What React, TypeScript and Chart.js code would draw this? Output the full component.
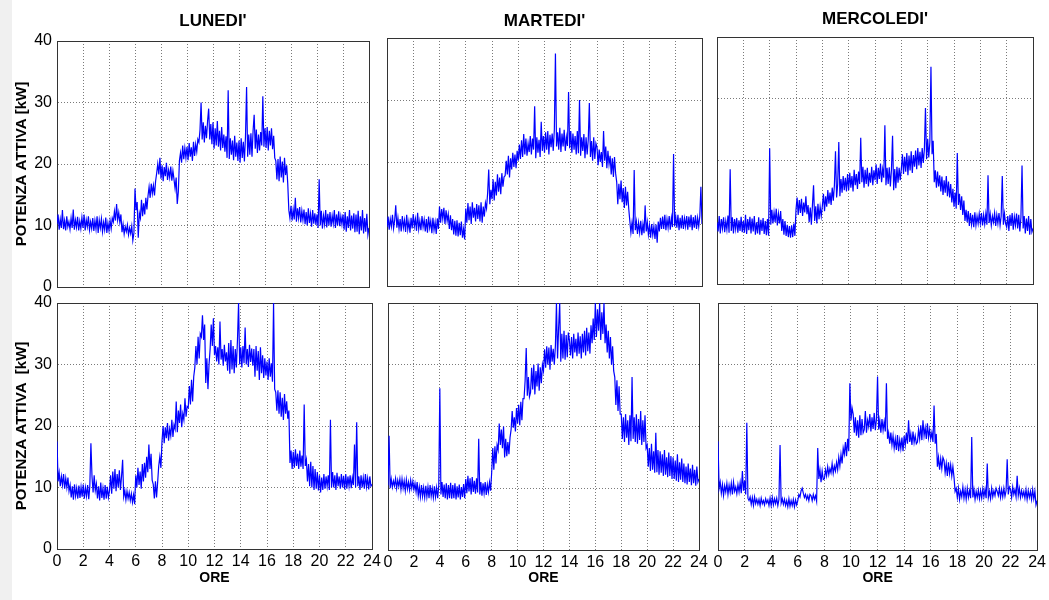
import React, { useEffect, useRef } from "react";
import { Chart, registerables } from "chart.js";

Chart.register(...registerables);

// Sample times in hours (one reading every 5 minutes, 0..24 h)
const SAMPLE_TIMES: number[] = Array.from({ length: 289 }, (_, i) => i / 12);
const X_TICKS = [0, 2, 4, 6, 8, 10, 12, 14, 16, 18, 20, 22, 24];
const Y_TICKS = [0, 10, 20, 30, 40];
const DAY_TITLES = ["LUNEDI'", "MARTEDI'", "MERCOLEDI'"];
const Y_TITLE_TOP = "POTENZA ATTIVA [kW]";
const Y_TITLE_BOTTOM = "POTENZA ATTIVA  [kW]";
const X_TITLE = "ORE";

// Active power [kW], top row (one row per hour)
const LUNEDI_A = [
  10.2, 11.8, 9.3, 11.0, 9.6, 12.5, 9.4, 10.8, 9.2, 11.5, 9.8, 10.6,
  9.4, 11.2, 9.6, 12.6, 9.3, 10.9, 9.7, 11.4, 9.2, 10.7, 9.5, 11.3,
  9.6, 11.8, 9.2, 10.9, 9.8, 11.5, 9.3, 10.6, 9.5, 11.2, 9.1, 10.8,
  9.4, 11.5, 8.8, 10.9, 9.6, 11.1, 9.0, 10.5, 9.3, 11.3, 8.8, 10.4,
  9.2, 10.8, 9.5, 11.2, 10.6, 12.3, 10.8, 13.5, 10.9, 12.1, 10.5, 11.8,
  8.9, 10.2, 8.6, 9.8, 9.0, 10.1, 8.5, 9.6, 8.7, 9.9, 7.6, 8.8,
  16.0, 12.5, 13.8, 8.0, 12.0, 11.2, 14.2, 11.5, 13.6, 11.8, 14.5, 12.6,
  14.8, 16.3, 14.5, 16.8, 15.2, 16.5, 14.9, 17.2, 18.5, 20.0, 18.3, 21.0,
  17.6, 19.8, 17.2, 19.5, 18.0, 20.2, 17.4, 19.0, 17.8, 19.6, 17.3, 18.9,
  17.5, 16.0, 17.8, 13.5, 15.5, 20.5, 21.8, 20.2, 23.0, 20.8, 22.6, 21.0,
  22.8, 20.6, 23.4, 21.2, 22.7, 20.5, 23.6, 21.3, 23.2, 22.0, 24.0, 23.5,
  25.5, 30.0, 24.0, 26.8, 23.5, 26.2, 24.2, 27.0, 29.0, 24.0, 26.5, 23.2,
  26.8, 22.5, 25.8, 23.0, 27.0, 22.8, 25.4, 22.2, 26.0, 22.6, 24.8, 22.0,
  24.5, 21.0, 32.0, 20.8, 24.2, 21.5, 23.8, 20.6, 24.6, 21.2, 23.5, 20.5,
  23.8, 20.2, 24.2, 21.0, 23.6, 20.4, 24.5, 32.5, 21.2, 24.8, 21.5, 25.0,
  21.2, 25.4, 28.0, 22.5, 25.6, 21.8, 24.8, 22.2, 25.2, 23.0, 31.0, 22.8,
  25.8, 22.6, 26.0, 22.2, 25.4, 23.0, 25.8, 22.4, 24.6, 21.0, 20.5, 17.5,
  20.8, 17.2, 21.2, 17.8, 20.4, 17.0, 21.0, 18.2, 19.8, 16.8, 12.5, 11.2,
  13.2, 10.8, 12.6, 11.0, 14.5, 10.6, 12.8, 11.2, 13.0, 10.5, 12.4, 10.9,
  12.6, 10.2, 12.2, 10.0, 12.8, 10.4, 11.9, 9.8, 12.5, 10.3, 12.0, 10.1,
  11.8, 9.6, 17.5, 10.0, 12.4, 9.5, 11.6, 10.2, 12.5, 9.7, 11.9, 10.0,
  12.2, 9.8, 11.6, 10.3, 12.5, 9.6, 11.8, 10.0, 12.3, 9.9, 11.5, 10.2,
  11.8, 9.3, 12.2, 9.0, 11.5, 9.6, 12.5, 9.2, 11.6, 9.5, 12.0, 8.9,
  11.8, 9.0, 12.4, 8.6, 11.5, 9.2, 12.5, 8.7, 11.2, 9.0, 11.9, 8.5,
  9.6,
];

const MARTEDI_A = [
  9.5, 11.2, 9.1, 10.8, 9.6, 11.5, 9.3, 10.6, 13.0, 9.4, 11.0, 9.2,
  10.8, 8.8, 11.3, 9.4, 10.6, 8.7, 11.5, 9.1, 10.4, 8.6, 11.0, 9.3,
  11.6, 9.6, 10.8, 8.9, 11.8, 9.2, 10.5, 9.0, 11.3, 9.5, 10.7, 8.8,
  10.8, 8.6, 11.2, 9.4, 10.5, 8.5, 11.0, 9.0, 10.3, 8.4, 10.9, 9.2,
  12.8, 10.2, 12.4, 10.8, 12.6, 10.0, 12.2, 10.5, 11.6, 9.2, 11.4, 9.0,
  10.8, 8.3, 10.5, 8.1, 10.6, 8.0, 10.2, 8.2, 10.4, 7.8, 9.2, 7.5,
  12.5, 10.2, 13.4, 10.6, 12.8, 10.0, 13.5, 11.0, 12.6, 10.4, 13.2, 10.8,
  13.0, 10.4, 13.5, 10.2, 12.8, 11.2, 13.4, 12.5, 15.0, 18.8, 13.2, 15.5,
  14.0, 17.2, 13.8, 16.8, 14.6, 18.0, 15.2, 17.5, 14.8, 18.2, 16.0, 17.6,
  17.8, 20.2, 18.0, 21.0, 17.5, 20.6, 18.8, 21.5, 19.2, 21.2, 19.0, 21.8,
  20.2, 22.8, 20.5, 23.5, 20.8, 24.5, 21.2, 23.8, 21.0, 23.0, 21.6, 24.2,
  21.2, 23.8, 22.0, 29.0, 20.6, 24.0, 21.5, 23.6, 20.8, 26.5, 21.8, 24.2,
  21.5, 24.8, 22.0, 25.0, 21.2, 24.4, 22.4, 24.6, 21.8, 25.2, 37.5, 22.5,
  24.8, 22.0, 25.5, 21.6, 24.6, 22.5, 25.2, 21.8, 24.0, 22.6, 31.3, 22.2,
  25.0, 21.5, 24.6, 22.0, 24.2, 21.2, 25.0, 21.4, 30.0, 21.0, 24.0, 21.8,
  24.5, 20.6, 24.0, 21.2, 23.6, 29.5, 20.8, 23.4, 20.2, 24.0, 20.5, 23.0,
  22.4, 19.5, 22.0, 20.0, 21.6, 19.2, 25.0, 20.2, 22.5, 19.0, 21.8, 19.6,
  21.0, 18.0, 20.6, 17.6, 20.8, 18.2, 16.8, 13.2, 16.5, 14.0, 17.0, 13.5,
  15.8, 12.6, 16.0, 13.0, 15.2, 12.5, 10.5, 8.6, 10.2, 8.4, 18.7, 9.0,
  10.4, 8.4, 10.2, 8.6, 10.5, 8.2, 10.0, 8.5, 13.0, 8.8, 10.3, 8.3,
  9.8, 7.8, 10.0, 8.2, 9.6, 7.6, 9.9, 7.0, 10.4, 8.8, 11.0, 9.2,
  11.2, 9.2, 11.5, 9.0, 10.8, 9.4, 11.3, 9.1, 11.0, 9.5, 21.3, 9.6,
  11.2, 9.4, 11.5, 9.0, 11.0, 9.3, 11.4, 9.2, 10.9, 9.6, 11.3, 9.1,
  11.2, 9.5, 11.5, 9.0, 11.1, 9.4, 11.4, 9.2, 11.0, 9.6, 11.3, 16.0,
  10.0,
];

const MERCOLEDI_A = [
  10.0, 8.5, 11.0, 8.2, 10.5, 9.0, 10.8, 8.4, 10.2, 8.8, 11.1, 8.3,
  18.6, 8.6, 10.8, 8.2, 10.5, 8.9, 10.7, 8.3, 10.3, 8.6, 10.9, 8.4,
  10.2, 8.3, 11.2, 8.1, 10.5, 8.7, 10.9, 8.2, 10.6, 8.5, 11.0, 8.0,
  10.0, 8.2, 10.8, 8.0, 10.4, 8.6, 10.7, 8.1, 10.2, 7.9, 10.5, 7.8,
  22.0, 9.6, 12.0, 9.8, 11.6, 10.0, 12.2, 9.5, 11.4, 9.8, 11.8, 8.6,
  10.5, 8.0, 10.2, 7.8, 9.6, 7.6, 9.4, 7.5, 9.5, 7.6, 9.8, 7.8,
  12.0, 14.0, 11.2, 13.6, 11.5, 13.8, 11.0, 13.2, 11.6, 14.2, 11.3, 12.8,
  10.0, 12.4, 9.6, 12.8, 16.0, 10.2, 12.6, 9.8, 13.0, 10.5, 12.5, 11.0,
  12.6, 14.6, 11.8, 14.2, 12.5, 15.2, 13.0, 14.8, 12.8, 15.6, 13.5, 16.0,
  21.5, 14.0, 16.2, 23.0, 14.2, 17.0, 14.8, 17.5, 15.2, 17.2, 15.0, 17.8,
  15.2, 18.0, 15.6, 17.5, 15.0, 18.5, 16.0, 17.8, 15.4, 18.2, 16.2, 23.7,
  16.5, 19.0, 15.6, 18.5, 16.2, 18.8, 15.8, 18.0, 16.4, 19.0, 16.0, 18.4,
  16.8, 19.4, 16.2, 18.8, 17.0, 19.5, 16.5, 18.6, 17.2, 25.7, 16.0, 18.8,
  16.2, 18.9, 15.8, 18.5, 24.0, 15.2, 18.6, 15.5, 19.0, 16.4, 18.8, 16.8,
  18.6, 21.0, 17.8, 20.6, 18.2, 21.2, 17.6, 20.8, 18.4, 21.5, 18.0, 20.9,
  19.0, 21.6, 18.6, 22.0, 19.2, 21.4, 18.8, 22.0, 19.6, 21.8, 28.5, 20.2,
  23.5, 20.5, 23.0, 35.2, 21.0, 23.2, 16.5, 18.4, 15.6, 18.2, 15.8, 17.6,
  15.0, 17.4, 14.4, 16.8, 14.8, 17.5, 14.2, 16.6, 14.0, 16.2, 13.2, 15.4,
  12.5, 14.8, 12.2, 21.2, 12.8, 14.6, 12.0, 14.2, 11.2, 13.5, 10.2, 12.0,
  10.0, 11.8, 9.4, 11.5, 9.6, 11.2, 9.2, 11.6, 9.5, 11.0, 9.8, 11.4,
  9.8, 11.5, 9.5, 11.2, 9.7, 11.4, 9.6, 17.6, 9.9, 11.3, 9.5, 11.0,
  10.0, 11.5, 9.4, 11.2, 9.8, 11.5, 9.5, 11.0, 17.5, 9.6, 11.4, 9.8,
  9.2, 11.0, 8.6, 11.2, 9.4, 11.5, 8.8, 10.9, 9.5, 11.4, 9.0, 11.2,
  8.5, 10.8, 19.2, 9.0, 11.0, 8.2, 10.6, 8.6, 11.0, 8.0, 10.5, 8.4,
  9.0,
];

// Active power [kW], bottom row (one row per hour)
const LUNEDI_B = [
  17.5, 11.0, 12.4, 10.2, 11.8, 10.4, 12.2, 9.8, 11.5, 10.0, 11.6, 9.4,
  10.4, 8.4, 10.2, 8.0, 10.5, 8.6, 9.9, 8.2, 10.3, 8.3, 10.1, 8.5,
  10.5, 8.2, 10.0, 8.6, 10.4, 8.1, 10.2, 17.2, 11.8, 9.2, 12.0, 9.5,
  10.6, 8.2, 10.2, 7.9, 10.8, 8.3, 9.9, 8.0, 10.4, 8.2, 10.1, 8.4,
  9.5, 12.0, 9.0, 12.6, 9.8, 13.0, 9.4, 12.2, 10.0, 12.8, 9.6, 11.8,
  14.5, 8.5, 9.5, 8.0, 9.4, 8.2, 9.2, 7.9, 9.0, 7.6, 8.8, 7.3,
  12.0, 10.0, 13.2, 10.4, 12.6, 9.8, 13.8, 11.0, 14.0, 11.6, 15.0, 12.5,
  17.0, 13.0, 15.5, 11.2, 10.5, 8.2, 11.0, 8.4, 10.8, 13.5, 15.0, 13.2,
  17.5, 20.0, 17.2, 19.8, 18.0, 20.5, 17.6, 19.5, 18.4, 21.0, 18.2, 20.2,
  19.5, 24.0, 19.0, 22.5, 20.5, 23.5, 19.8, 22.0, 21.0, 24.5, 21.5, 23.2,
  23.0, 26.5, 23.5, 27.5, 24.0, 28.0, 29.5, 33.0, 30.0, 34.5, 31.0, 35.0,
  34.5, 38.0, 34.0, 36.5, 27.0, 31.0, 26.0, 30.0, 32.5, 36.5, 33.0, 37.5,
  31.5, 33.0, 30.5, 32.8, 30.0, 37.0, 30.8, 32.5, 29.8, 33.2, 30.5, 32.0,
  29.0, 33.5, 28.5, 34.0, 29.2, 33.0, 28.6, 32.5, 29.5, 34.0, 40.0, 30.0,
  32.8, 29.5, 33.0, 30.2, 36.0, 30.0, 32.5, 29.6, 33.2, 30.4, 32.6, 29.8,
  32.5, 28.0, 33.0, 29.0, 32.2, 27.5, 32.8, 28.6, 31.5, 27.8, 31.0, 28.2,
  30.5, 27.5, 31.0, 28.0, 30.2, 27.2, 40.0, 26.0, 25.5, 22.5, 25.8, 22.0,
  25.5, 21.5, 24.6, 21.0, 25.2, 22.0, 24.0, 21.2, 22.5, 14.0, 16.0, 13.0,
  15.8, 13.2, 16.2, 13.5, 15.5, 13.0, 16.0, 13.4, 15.2, 13.0, 23.5, 13.5,
  14.5, 11.0, 13.8, 10.2, 14.2, 10.0, 13.5, 9.6, 13.0, 9.8, 12.5, 9.5,
  12.0, 9.2, 11.6, 9.6, 12.2, 9.8, 11.8, 10.2, 12.0, 9.6, 21.0, 10.0,
  12.5, 10.0, 12.0, 9.6, 12.4, 10.2, 11.8, 9.8, 12.2, 10.0, 11.9, 9.7,
  12.2, 9.8, 11.8, 10.2, 12.0, 9.9, 11.6, 10.4, 17.0, 10.0, 20.6, 10.2,
  11.8, 9.6, 12.0, 10.0, 11.6, 9.8, 12.2, 10.1, 11.5, 9.7, 11.8, 10.2,
  10.5,
];

const MARTEDI_B = [
  10.5, 18.5, 10.0, 11.5, 10.2, 11.2, 10.4, 11.6, 10.0, 11.3, 10.3, 11.5,
  9.8, 11.5, 10.0, 11.2, 9.6, 11.4, 9.9, 11.0, 9.7, 11.3, 10.0, 11.1,
  9.8, 10.8, 9.4, 11.0, 8.8, 10.2, 8.6, 10.5, 8.7, 10.1, 8.5, 10.4,
  8.6, 10.2, 8.4, 10.5, 8.7, 10.0, 8.5, 10.3, 8.6, 10.1, 8.4, 10.4,
  26.2, 9.0, 11.0, 8.6, 10.6, 8.4, 10.8, 8.2, 10.5, 8.4, 10.9, 8.3,
  10.5, 8.4, 10.8, 8.2, 10.3, 8.5, 10.6, 8.2, 10.2, 8.6, 10.7, 8.4,
  11.5, 9.2, 12.0, 9.5, 11.6, 9.0, 11.8, 9.4, 11.2, 9.1, 11.6, 9.3,
  18.0, 9.0, 11.0, 8.8, 10.8, 9.2, 11.0, 8.9, 10.6, 9.4, 11.0, 9.6,
  12.5, 16.5, 13.0, 16.8, 14.0, 17.0, 16.2, 20.5, 17.0, 19.5, 16.5, 20.0,
  15.0, 18.0, 15.2, 17.5, 15.5, 18.2, 19.5, 22.5, 19.8, 21.5, 19.2, 23.0,
  20.5, 23.5, 20.2, 24.0, 21.0, 24.5, 24.5, 27.5, 32.7, 25.0, 28.0, 24.8,
  25.5, 29.5, 26.0, 30.0, 25.2, 29.0, 26.5, 30.2, 25.8, 29.6, 27.0, 30.0,
  29.0, 32.5, 29.5, 33.0, 30.0, 32.8, 29.2, 33.2, 30.5, 32.6, 30.0, 33.0,
  40.0, 31.0, 36.0, 40.0, 30.5, 35.0, 31.0, 35.5, 30.8, 34.8, 31.2, 35.2,
  34.0, 31.5, 34.5, 31.0, 35.0, 32.0, 34.2, 31.4, 35.2, 31.8, 34.6, 31.0,
  35.0, 32.0, 35.5, 31.5, 36.0, 32.2, 35.2, 31.8, 36.4, 33.5, 37.5, 34.0,
  40.0, 34.5, 39.0, 35.5, 40.0, 34.0, 38.5, 35.0, 40.0, 33.5, 36.5, 32.0,
  35.5, 31.0, 34.5, 30.0, 33.0, 29.0, 28.0, 23.5, 27.5, 22.5, 26.5, 22.0,
  22.0, 18.0, 21.5, 17.5, 22.0, 18.2, 21.0, 17.0, 21.8, 17.6, 28.0, 18.0,
  21.5, 17.5, 22.0, 17.2, 21.2, 17.8, 22.5, 17.0, 21.0, 17.5, 21.8, 16.5,
  17.0, 13.5, 16.5, 12.8, 17.2, 13.0, 16.0, 12.5, 19.0, 12.6, 16.2, 12.2,
  16.0, 12.5, 15.5, 12.0, 16.2, 12.2, 15.0, 11.8, 15.8, 12.0, 15.2, 11.5,
  15.0, 11.5, 14.5, 11.2, 15.5, 11.0, 14.2, 11.4, 14.8, 11.0, 14.0, 10.8,
  13.5, 10.6, 14.0, 11.0, 13.2, 10.5, 13.8, 10.8, 13.0, 10.4, 13.5, 11.0,
  11.5,
];

const MERCOLEDI_B = [
  17.6, 10.0, 11.0, 9.2, 10.6, 8.8, 10.4, 9.4, 10.8, 9.0, 10.5, 9.3,
  10.8, 9.0, 11.0, 9.5, 10.2, 9.1, 10.6, 9.4, 10.9, 9.2, 12.8, 9.6,
  11.2, 9.0, 20.6, 8.4, 8.0, 8.6, 7.4, 8.5, 7.2, 8.6, 7.5, 8.2,
  7.4, 8.2, 7.2, 8.4, 7.5, 8.0, 7.3, 8.3, 7.6, 8.1, 7.2, 8.4,
  7.2, 8.5, 7.3, 8.3, 7.5, 8.4, 7.2, 8.2, 17.0, 7.6, 8.3, 7.4,
  8.2, 7.2, 8.0, 7.0, 8.3, 7.1, 8.0, 7.2, 8.2, 7.0, 8.1, 7.3,
  8.0, 9.0, 8.6, 9.6, 10.0, 9.2, 8.5, 9.0, 8.2, 8.8, 8.0, 9.0,
  8.8, 8.0, 9.0, 8.2, 8.8, 7.9, 16.5, 11.5, 13.0, 11.0, 12.8, 11.4,
  11.5, 13.0, 12.0, 13.5, 12.2, 13.2, 12.5, 14.0, 12.4, 13.6, 12.8, 14.2,
  13.0, 15.0, 13.6, 15.5, 14.0, 16.5, 15.5, 17.5, 15.2, 18.0, 16.0, 27.0,
  21.0, 23.0, 22.0, 19.0, 21.5, 18.5, 21.0, 18.2, 21.8, 18.6, 21.2, 19.0,
  19.5, 22.5, 19.0, 21.0, 20.0, 22.0, 19.2, 21.5, 19.6, 22.2, 19.4, 21.2,
  28.1, 19.5, 21.0, 19.0, 21.2, 19.4, 20.8, 19.2, 27.0, 18.0, 19.0, 17.2,
  19.0, 17.0, 18.5, 16.5, 18.0, 16.2, 18.6, 16.0, 17.8, 16.4, 18.2, 16.0,
  18.5, 17.0, 19.0, 17.2, 21.0, 17.5, 18.8, 17.0, 19.2, 17.4, 18.5, 17.2,
  17.5, 19.5, 18.0, 20.2, 17.8, 21.0, 18.5, 19.8, 18.0, 20.5, 18.2, 19.5,
  18.0, 19.0, 17.5, 23.4, 17.2, 18.8, 13.5, 15.0, 13.0, 14.8, 13.2, 15.0,
  14.5, 12.5, 14.0, 12.0, 14.2, 12.4, 13.8, 12.0, 13.5, 11.8, 9.5, 10.0,
  8.5, 10.0, 8.2, 9.5, 8.6, 10.2, 8.4, 9.8, 8.2, 10.0, 8.5, 9.6,
  8.4, 18.3, 8.5, 9.8, 8.2, 9.5, 8.5, 9.7, 8.3, 9.6, 8.4, 9.9,
  8.6, 9.8, 8.4, 14.0, 8.5, 9.5, 8.3, 10.0, 8.6, 9.6, 8.8, 10.0,
  9.5, 8.8, 10.0, 8.5, 9.8, 8.6, 10.0, 8.7, 9.6, 14.7, 9.0, 10.2,
  9.8, 8.5, 10.2, 9.0, 9.8, 8.6, 12.0, 8.8, 10.0, 8.5, 9.6, 8.7,
  9.5, 8.4, 9.8, 8.2, 9.6, 8.5, 9.5, 8.2, 9.8, 8.3, 9.5, 7.3,
  8.0,
];

const W = 1049;
const H = 600;
const FONT = "'Liberation Sans', Arial, Helvetica, sans-serif";
const LINE_COLOR = "#0000ff";
const GRID_COLOR = "#7a7a7a";
const FRAME_COLOR = "#333333";

type Panel = {
  key: string;
  values: number[];
  title?: string;
  titleY?: number;
  yTitle?: string;
  showY: boolean;
  showX: boolean;
  L: number; T: number; R: number; B: number;
};

const PANELS: Panel[] = [
  { key: "a1", values: LUNEDI_A, title: DAY_TITLES[0], titleY: 21, yTitle: Y_TITLE_TOP, showY: true, showX: false, L: 57, T: 41, R: 369, B: 287 },
  { key: "a2", values: MARTEDI_A, title: DAY_TITLES[1], titleY: 21, showY: false, showX: false, L: 387, T: 38, R: 702, B: 286 },
  { key: "a3", values: MERCOLEDI_A, title: DAY_TITLES[2], titleY: 19, showY: false, showX: false, L: 717, T: 37, R: 1033, B: 284 },
  { key: "b1", values: LUNEDI_B, yTitle: Y_TITLE_BOTTOM, showY: true, showX: true, L: 57, T: 303, R: 372, B: 549 },
  { key: "b2", values: MARTEDI_B, showY: false, showX: true, L: 388, T: 303, R: 699, B: 550 },
  { key: "b3", values: MERCOLEDI_B, showY: false, showX: true, L: 718, T: 303, R: 1038, B: 550 },
];

function PanelChart({ p }: { p: Panel }) {
  const ref = useRef<HTMLCanvasElement | null>(null);
  useEffect(() => {
    if (!ref.current) return;
    const yW = p.showY ? 50 : 1;
    const xH = p.showX ? 42 : 1;
    const titleSize = 17;
    const titleLH = titleSize * 1.2;
    const padTop = p.title ? (p.titleY as number) - titleLH / 2 : p.T;
    const titleBottomPad = p.title ? p.T - padTop - titleLH : 0;
    const points = p.values.map((v, i) => ({ x: SAMPLE_TIMES[i], y: v }));
    const chart = new Chart(ref.current, {
      type: "line",
      data: {
        datasets: [
          {
            data: points,
            borderColor: LINE_COLOR,
            borderWidth: 1.2,
            pointRadius: 0,
            tension: 0,
            fill: false,
          },
        ],
      },
      options: {
        responsive: false,
        animation: false,
        events: [],
        layout: {
          padding: {
            left: p.L - yW,
            right: W - p.R,
            top: padTop,
            bottom: H - p.B - xH,
          },
        },
        plugins: {
          legend: { display: false },
          tooltip: { enabled: false },
          title: {
            display: !!p.title,
            text: p.title || "",
            fullSize: false,
            color: "#000",
            font: { family: FONT, size: titleSize, weight: "bold", lineHeight: 1.2 },
            padding: { top: 0, bottom: titleBottomPad },
          },
        },
        scales: {
          x: {
            type: "linear",
            position: "bottom",
            min: 0,
            max: 24,
            afterBuildTicks: (s: any) => { s.ticks = X_TICKS.map((v) => ({ value: v })); },
            afterFit: (s: any) => { s.height = xH; },
            ticks: {
              display: p.showX,
              color: "#000",
              padding: 3,
              maxRotation: 0,
              autoSkip: false,
              font: { family: FONT, size: 16 },
            },
            grid: {
              drawTicks: false,
              color: GRID_COLOR,
              lineWidth: 1,
            },
            border: { display: true, color: FRAME_COLOR, width: 1, dash: [1, 2] },
            title: {
              display: p.showX,
              text: X_TITLE,
              color: "#000",
              font: { family: FONT, size: 14, weight: "bold", lineHeight: 1.2 },
              padding: { top: 0, bottom: p.B + xH - 578 - 8.4 },
            },
          },
          y: {
            type: "linear",
            position: "left",
            min: 0,
            max: 40,
            afterBuildTicks: (s: any) => { s.ticks = Y_TICKS.map((v) => ({ value: v })); },
            afterFit: (s: any) => { s.width = yW; },
            ticks: {
              display: p.showY,
              color: "#000",
              padding: 5,
              font: { family: FONT, size: 16 },
            },
            grid: {
              drawTicks: false,
              color: GRID_COLOR,
              lineWidth: 1,
            },
            border: { display: true, color: FRAME_COLOR, width: 1, dash: [1, 2] },
            title: {
              display: !!p.yTitle,
              text: p.yTitle || "",
              color: "#000",
              font: { family: FONT, size: 15, weight: "bold", lineHeight: 1.2 },
              padding: { top: 6, bottom: 0 },
            },
          },
          x2: {
            type: "linear",
            position: "top",
            min: 0,
            max: 24,
            afterFit: (s: any) => { s.height = 0; },
            ticks: { display: false },
            grid: { display: false },
            border: { display: true, color: FRAME_COLOR, width: 1 },
          },
          y2: {
            type: "linear",
            position: "right",
            min: 0,
            max: 40,
            afterFit: (s: any) => { s.width = 0; },
            ticks: { display: false },
            grid: { display: false },
            border: { display: true, color: FRAME_COLOR, width: 1 },
          },
        },
      } as any,
    });
    return () => chart.destroy();
  }, [p]);
  return (
    <canvas
      ref={ref}
      width={W}
      height={H}
      style={{ position: "absolute", left: 0, top: 0, width: W, height: H }}
    />
  );
}

export default function App() {
  return (
    <div style={{ position: "fixed", left: 0, top: 0, width: W, height: H, background: "#ffffff", overflow: "hidden" }}>
      <div style={{ position: "absolute", left: 0, top: 0, width: 12, height: H, background: "#f0f0f0" }} />
      {PANELS.map((p) => (
        <PanelChart key={p.key} p={p} />
      ))}
    </div>
  );
}
